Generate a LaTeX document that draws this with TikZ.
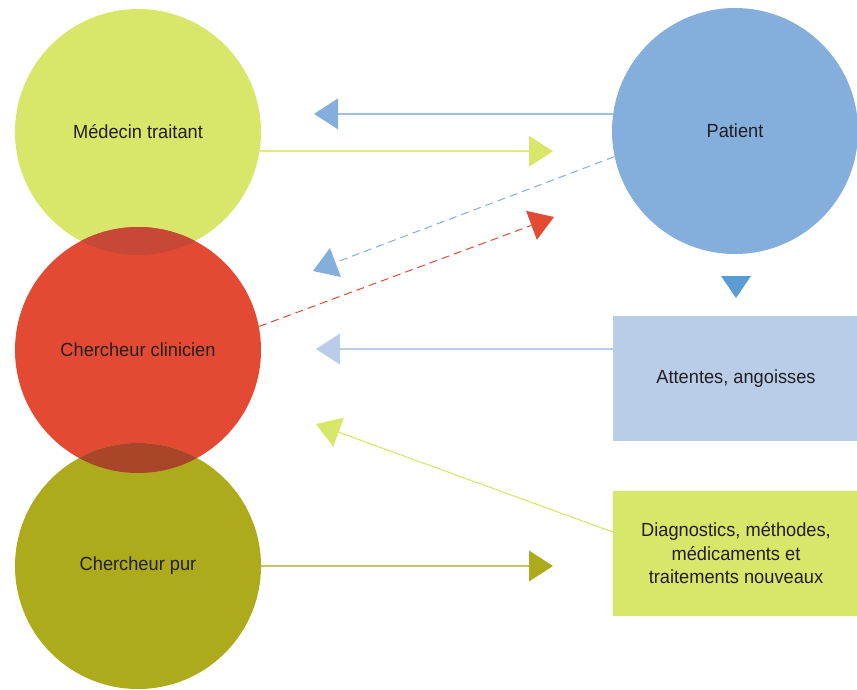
\documentclass[tikz,border=0pt]{standalone}
\usepackage{fontspec}
\setmainfont{Liberation Sans}[FakeStretch=0.96]
\usetikzlibrary{arrows.meta}
\definecolor{cgreen}{HTML}{D8E66A}
\definecolor{cgreenline}{HTML}{DDE983}
\definecolor{cred}{HTML}{E44A33}
\definecolor{colive}{HTML}{ADAA1B}
\definecolor{coliveline}{HTML}{C5C26A}
\definecolor{cblue}{HTML}{84AEDB}
\definecolor{cblueline}{HTML}{9FC0E4}
\definecolor{clightblue}{HTML}{B9CDE9}
\definecolor{cbluetri}{HTML}{5A9BD2}
\definecolor{lensA}{HTML}{C84838}
\definecolor{lensB}{HTML}{A9462A}
\definecolor{txt}{HTML}{231F20}
\begin{document}
\begin{tikzpicture}[x=1pt,y=-1pt,
  circ/.style={circle, minimum size=246pt, inner sep=0pt, draw=none, text=txt,
    font=\fontsize{19}{23.5}\selectfont},
  box/.style={rectangle, minimum width=246pt, minimum height=125pt, inner sep=0pt,
    draw=none, text=txt, align=center, font=\fontsize{19}{23.5}\selectfont},
  tip/.style={-{Triangle[length=24pt,width=31pt,line width=0pt,color=#1]}},
  dsh/.style={line width=1pt, dash pattern=on 8pt off 5pt},
]
\useasboundingbox (0,0) rectangle (857,689);
% circles
\node[circ, fill=cgreen] (med) at (138,132) {Médecin traitant};
\node[circ, fill=cred] (clin) at (138,350) {Chercheur clinicien};
\begin{scope}
  \clip (138,132) circle (123pt);
  \fill[lensA] (138,350) circle (123pt);
\end{scope}
\node[circ, fill=colive] (pur) at (138,566) {Chercheur pur};
\begin{scope}
  \clip (138,350) circle (123pt);
  \fill[lensB] (138,566) circle (123pt);
\end{scope}
\node[circ, fill=cblue] (pat) at (735,131) {Patient};
% boxes
\node[box, fill=clightblue] (att) at (736,378.5) {Attentes, angoisses};
\node[box, fill=cgreen] (diag) at (736,553.5) {Diagnostics, méthodes,\\médicaments et\\traitements nouveaux};
% connector ends
\coordinate (t1x) at (314,0);
\coordinate (t2x) at (553,0);
\coordinate (t3) at (313,271);
\coordinate (t4) at (554,217);
\coordinate (t6x) at (316,0);
\coordinate (t7) at (316,424);
\coordinate (t8x) at (553,0);
\coordinate (s6) at ([yshift=29.5pt]att.west);
\coordinate (s7) at ([yshift=21.5pt]diag.west);
% connectors
\draw[cblueline, line width=1.6pt, tip=cblue] (pat.172.5) -- (t1x |- pat.172.5);
\draw[cgreenline, line width=2pt, tip=cgreen] (med.-9.7) -- (t2x |- med.-9.7);
\draw[cblue, dsh, tip=cblue] (pat.192.2) -- (t3);
\draw[cred, dsh, tip=cred] (clin.11.3) -- (t4);
\draw[clightblue, line width=1.4pt, tip=clightblue] (s6) -- (t6x |- s6);
\draw[cgreen, line width=1.1pt, tip=cgreen] (s7) -- (t7);
\draw[coliveline, line width=2pt, tip=colive] (pur.east) -- (t8x |- pur.east);
% down triangle from patient to box
\coordinate (d1) at (721,276);
\coordinate (d2) at (751,276);
\coordinate (d3) at (736,298);
\fill[cbluetri] (d1) -- (d2) -- (d3) -- cycle;
\end{tikzpicture}
\end{document}
